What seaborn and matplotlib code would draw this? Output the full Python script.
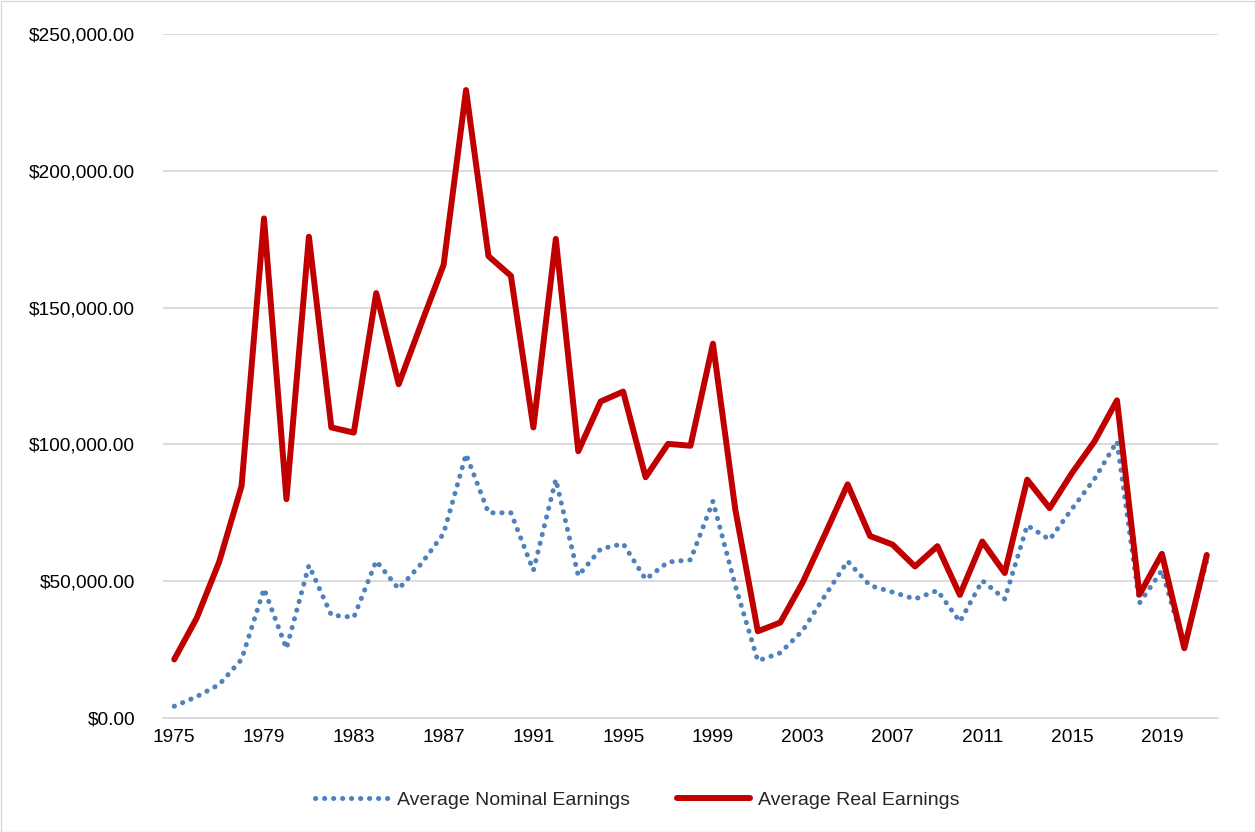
import matplotlib
matplotlib.use("Agg")
import matplotlib.pyplot as plt
import seaborn as sns
import pandas as pd
from matplotlib.patches import Rectangle
from matplotlib.ticker import FuncFormatter

years = list(range(1975, 2022))
nominal = [4.3, 7.8, 12.2, 21.4, 47.2, 25.4, 55.8, 37.6, 36.8, 57.4,
           47.2, 56.3, 67.4, 96.4, 75.0, 75.0, 53.9, 87.2, 52.0, 61.8,
           63.7, 50.7, 57.0, 57.8, 79.2, 48.3, 20.9, 23.8, 32.0, 44.8,
           57.3, 48.4, 46.0, 43.5, 46.6, 35.2, 50.2, 43.5, 70.4, 65.2,
           76.5, 87.4, 101.1, 42.0, 53.9, 25.8, 57.6]
real = [21.4, 36.5, 57.0, 84.8, 182.6, 80.0, 175.9, 106.2, 104.3, 155.3,
        122.0, 144.0, 165.6, 229.5, 168.8, 161.6, 106.2, 175.1, 97.5, 115.7,
        119.3, 88.0, 100.2, 99.5, 136.8, 76.0, 31.7, 34.9, 49.6, 67.3,
        85.4, 66.5, 63.4, 55.4, 62.8, 45.0, 64.5, 53.0, 87.1, 76.7,
        89.6, 101.1, 116.1, 45.1, 60.0, 25.5, 59.6]
nominal = [v * 1000 for v in nominal]
real = [v * 1000 for v in real]
xtick_years = list(range(1975, 2022, 4))

sns.set_theme(style="white")
plt.rcParams['font.family'] = ['Liberation Sans', 'DejaVu Sans']

fig = plt.figure(figsize=(12.55, 8.32), dpi=100)
ax = fig.add_axes([163/1255, 1 - 718/832, (1218-163)/1255, (718-34)/832])

df = pd.DataFrame({"year": years, "nominal": nominal, "real": real})

sns.lineplot(data=df, x="year", y="nominal", ax=ax, color="#4F81BD", lw=3.6,
             label="Average Nominal Earnings")
ax.lines[-1].set_linestyle((0, (0.05, 1.75)))
ax.lines[-1].set_dash_capstyle("round")
sns.lineplot(data=df, x="year", y="real", ax=ax, color="#C00000", lw=4.3,
             label="Average Real Earnings")
ax.lines[-1].set_solid_joinstyle("round")
ax.lines[-1].set_solid_capstyle("round")

ax.set_xlim(1974.5, 2021.5)
ax.set_ylim(0, 250000)
ax.set_yticks(range(0, 250001, 50000))
ax.yaxis.set_major_formatter(FuncFormatter(lambda v, p: f"${v:,.2f}"))
ax.set_xticks(xtick_years)
ax.set_xlabel("")
ax.set_ylabel("")
ax.grid(axis="y", color="#d9d9d9", lw=1.3)
ax.set_axisbelow(True)
for s in ["top", "right", "left"]:
    ax.spines[s].set_visible(False)
ax.spines["bottom"].set_color("#d9d9d9")
ax.spines["bottom"].set_linewidth(1.3)
ax.tick_params(axis="both", length=0, labelsize=13.8, colors="black")
ax.tick_params(axis="y", pad=20)
ax.tick_params(axis="x", pad=8)

leg = ax.legend(loc="center", bbox_to_anchor=((637.5 - 163) / 1055, -82/684), ncol=2,
                frameon=False, fontsize=14, handlelength=3.8, columnspacing=2.4,
                handletextpad=0.4)

fig.patches.append(Rectangle((0.5/1255, 0.5/832), 1 - 1/1255, 1 - 1/832,
                             transform=fig.transFigure, fill=False,
                             edgecolor="#d9d9d9", lw=1))

fig.savefig("out.png", dpi=100)
